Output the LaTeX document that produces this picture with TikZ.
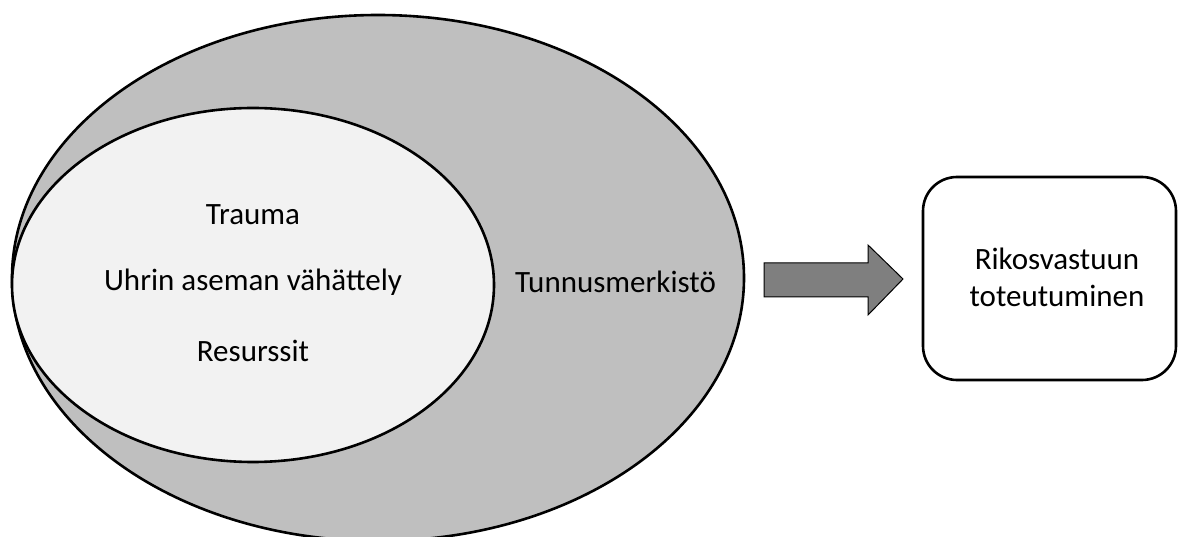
\documentclass[tikz,border=0pt]{standalone}
\usepackage{fontspec}
\setmainfont{Carlito}
\usetikzlibrary{shapes.geometric}
\definecolor{outerfill}{HTML}{BFBFBF}
\definecolor{innerfill}{HTML}{F2F2F2}
\definecolor{arrowfill}{HTML}{7F7F7F}
\tikzset{
  lbl/.style={font=\fontsize{31}{37}\selectfont, text=black, align=center, inner sep=0pt},
  oval/.style={ellipse, draw=black, line width=2.6pt, inner sep=0pt},
  box/.style={draw=black, line width=2.6pt, rounded corners=34pt, fill=white, inner sep=0pt},
  blockarrow/.style={draw=black, line width=1pt, fill=arrowfill, line join=miter}
}
\begin{document}
\begin{tikzpicture}[x=1pt,y=-1pt]
\useasboundingbox (0,0) rectangle (1179,537);
\clip (0,0) rectangle (1179,537);
\node[oval, fill=outerfill, minimum width=732pt, minimum height=526pt] (outer) at (378,278) {};
\node[oval, fill=innerfill, minimum width=482pt, minimum height=354pt] (inner) at (253,285) {};
\node[lbl] (trauma) at (253,215) {Trauma};
\node[lbl] (uhrin) at (253,282) {Uhrin aseman vähättely};
\node[lbl] (res) at (253,351) {Resurssit};
\node[lbl] (tunnus) at (615.5,282) {Tunnusmerkistö};
\node[box, minimum width=253pt, minimum height=203pt] (rikos) at (1049.5,278.5) {};
\node[lbl] (rikostext) at (1057,277) {Rikosvastuun\\toteutuminen};
\coordinate (a1) at (764,263);
\coordinate (a2) at (868,263);
\coordinate (a3) at (868,245);
\coordinate (tip) at (903,279);
\coordinate (a5) at (868,315);
\coordinate (a6) at (868,297);
\coordinate (a7) at (764,297);
\draw[blockarrow] (a1) -- (a2) -- (a3) -- (tip) -- (a5) -- (a6) -- (a7) -- cycle;
\end{tikzpicture}
\end{document}
